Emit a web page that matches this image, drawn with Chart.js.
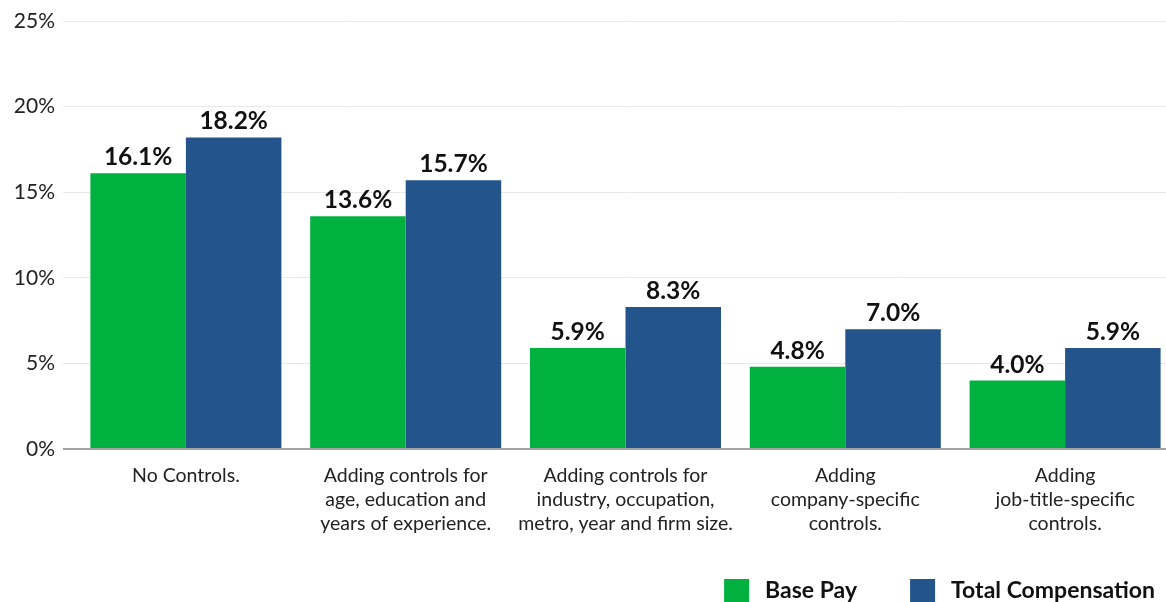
<!DOCTYPE html>
<html lang="en">
<head>
  <meta charset="UTF-8"/>
  <title>Pay Gap by Controls</title>
  <script src="https://cdn.jsdelivr.net/npm/chart.js"></script>
  <style>
    html, body { margin: 0; padding: 0; background: #fff; overflow: hidden; }
    .frame { width: 1166px; height: 602px; overflow: hidden; }
    .chart-wrap { width: 1175px; height: 602px; position: relative; }
  </style>
</head>
<body>
  <div class="frame">
    <div class="chart-wrap">
      <canvas id="gapChart"></canvas>
    </div>
  </div>
  <script>
    // categories (multi-line labels) and series values, in percent
    const categories = [
      ['No Controls.'],
      ['Adding controls for', 'age, education and', 'years of experience.'],
      ['Adding controls for', 'industry, occupation,', 'metro, year and firm size.'],
      ['Adding', 'company-specific', 'controls.'],
      ['Adding', 'job-title-specific', 'controls.']
    ];
    const seriesNames = ['Base Pay', 'Total Compensation'];
    const basePay = [16.1, 13.6, 5.9, 4.8, 4.0];
    const totalComp = [18.2, 15.7, 8.3, 7.0, 5.9];
    const yTicks = [0, 5, 10, 15, 20, 25];

    const GREEN = '#00b140';
    const BLUE = '#23558c';
    const FONT = 'Lato, "Noto Sans", sans-serif';
    const VISIBLE_WIDTH = 1166;

    // value labels above each bar
    const valueLabels = {
      id: 'valueLabels',
      afterDatasetsDraw(chart) {
        const ctx = chart.ctx;
        ctx.save();
        ctx.font = 'bold 24.5px ' + FONT;
        ctx.fillStyle = '#111';
        ctx.textAlign = 'center';
        ctx.textBaseline = 'alphabetic';
        chart.data.datasets.forEach((ds, i) => {
          chart.getDatasetMeta(i).data.forEach((bar, j) => {
            ctx.fillText(ds.data[j].toFixed(1) + '%', bar.x, bar.y - 8);
          });
        });
        ctx.restore();
      }
    };

    // legend in the bottom right corner
    const cornerLegend = {
      id: 'cornerLegend',
      afterDraw(chart) {
        const ctx = chart.ctx;
        const box = 25, gap = 16, spacing = 53;
        ctx.save();
        ctx.font = 'bold 23px ' + FONT;
        ctx.textBaseline = 'middle';
        const items = chart.data.datasets.map(ds => ({
          text: ds.label, color: ds.backgroundColor,
          w: box + gap + ctx.measureText(ds.label).width
        }));
        const total = items.reduce((s, it) => s + it.w, 0) + spacing * (items.length - 1);
        let x = VISIBLE_WIDTH - 11 - total;
        const top = chart.height - 23;
        items.forEach(it => {
          ctx.fillStyle = it.color;
          ctx.fillRect(x, top, box, box);
          ctx.fillStyle = '#111';
          ctx.fillText(it.text, x + box + gap, top + 12);
          x += it.w + spacing;
        });
        ctx.restore();
      }
    };

    new Chart(document.getElementById('gapChart'), {
      type: 'bar',
      data: {
        labels: categories,
        datasets: [
          { label: seriesNames[0], data: basePay, backgroundColor: GREEN },
          { label: seriesNames[1], data: totalComp, backgroundColor: BLUE }
        ]
      },
      options: {
        responsive: true,
        maintainAspectRatio: false,
        animation: false,
        layout: { padding: { top: 21, right: 0, bottom: 0, left: 0 } },
        datasets: { bar: { categoryPercentage: 0.869, barPercentage: 1.0 } },
        plugins: {
          legend: { display: false },
          tooltip: { enabled: false }
        },
        scales: {
          x: {
            grid: { display: false, drawTicks: false },
            border: { display: false },
            ticks: {
              color: '#222',
              padding: 15,
              maxRotation: 0,
              autoSkip: false,
              font: { family: FONT, size: 19.5, lineHeight: 24 / 19.5 }
            },
            afterFit: scale => { scale.height = 153; }
          },
          y: {
            min: 0,
            max: 25,
            afterBuildTicks: scale => { scale.ticks = yTicks.map(v => ({ value: v })); },
            grid: {
              color: c => c.tick && c.tick.value === 0 ? '#a3a3a3' : '#e8e8e8',
              lineWidth: c => c.tick && c.tick.value === 0 ? 2 : 1,
              drawTicks: true,
              tickLength: 13
            },
            border: { display: false },
            ticks: {
              color: '#222',
              padding: 8,
              font: { family: FONT, size: 21 },
              callback: v => v + '%'
            },
            afterFit: scale => { scale.width = 76; }
          }
        }
      },
      plugins: [valueLabels, cornerLegend]
    });
  </script>
</body>
</html>
